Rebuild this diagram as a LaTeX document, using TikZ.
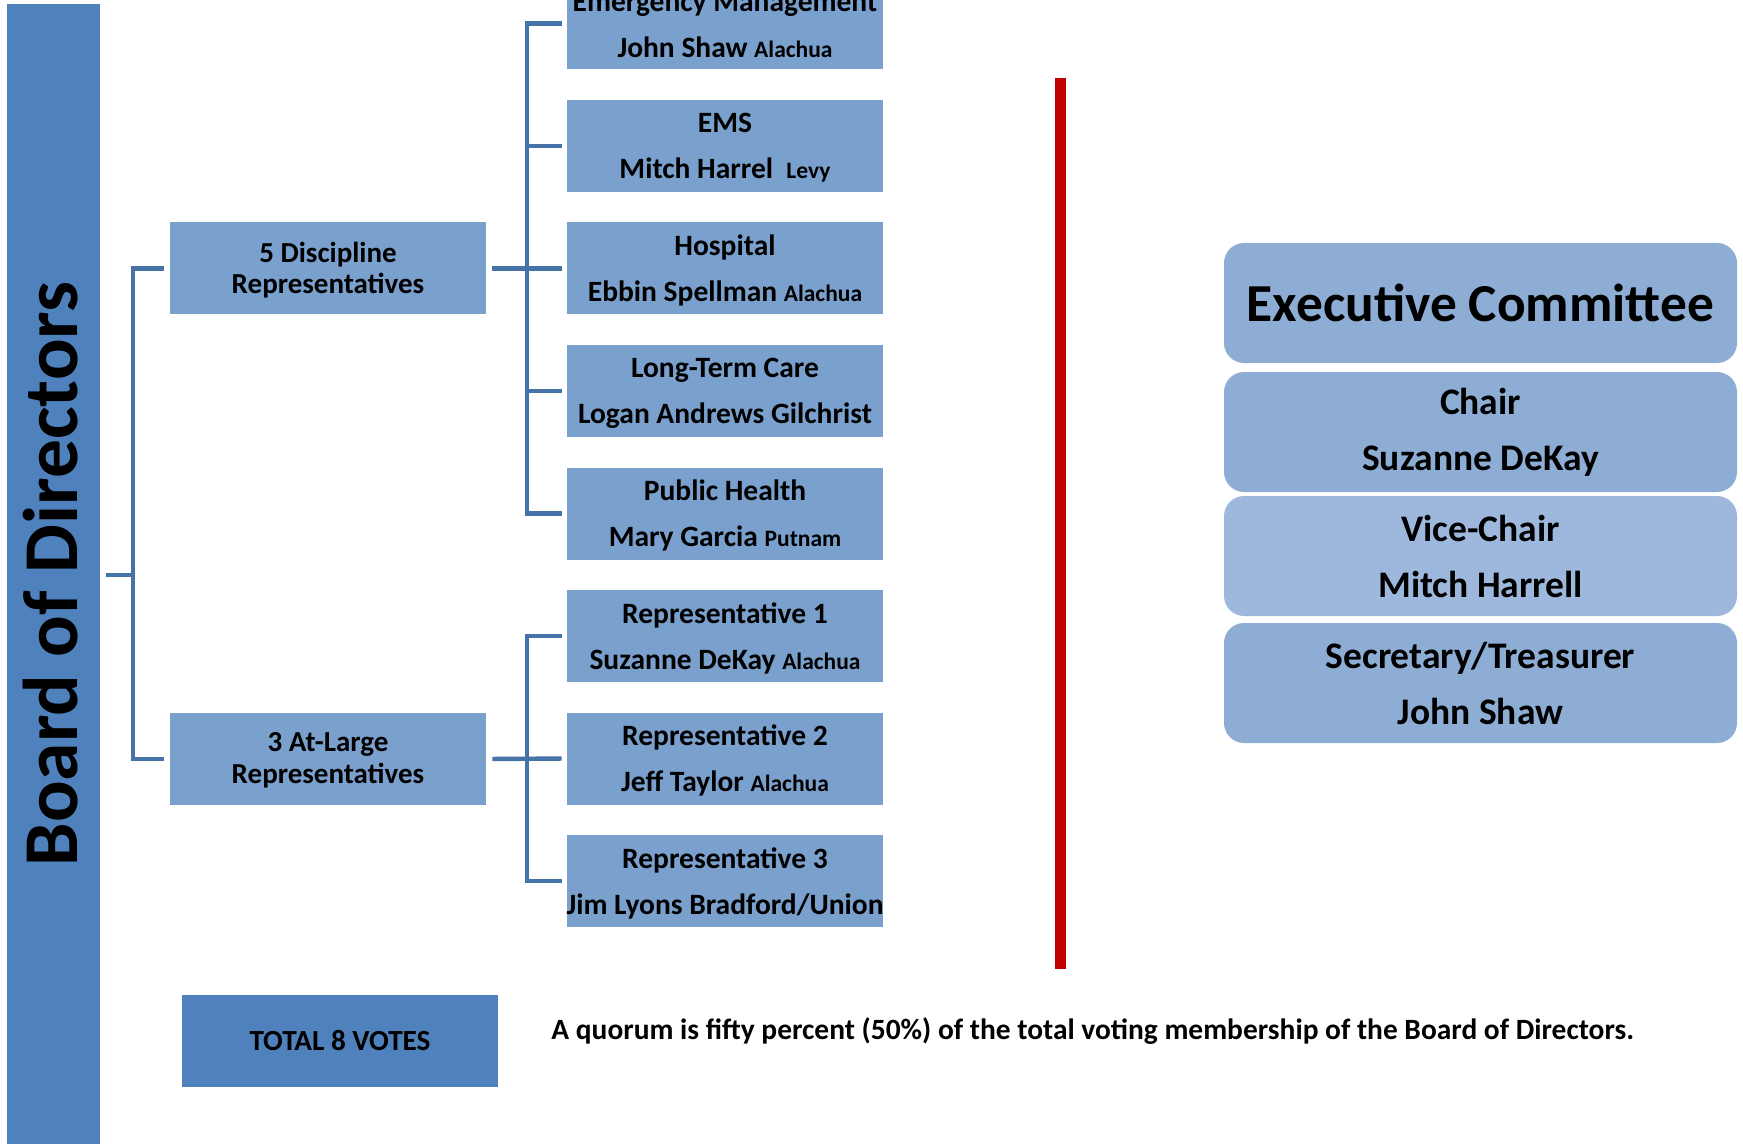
\documentclass[tikz,border=0pt]{standalone}
\usepackage{fontspec}
\setmainfont{Carlito}
\definecolor{boardblue}{RGB}{79,129,189}
\definecolor{boxblue}{RGB}{122,160,205}
\definecolor{execblue}{RGB}{141,173,212}
\definecolor{execlight}{RGB}{157,184,220}
\definecolor{connblue}{RGB}{69,114,167}
\definecolor{sepred}{RGB}{192,0,0}
\newcommand{\myfs}[2]{\fontsize{#1}{#2}\selectfont}
\newcommand{\cty}[1]{{\myfs{11.75}{23}#1}}
\begin{document}
\begin{tikzpicture}[x=0.5pt,y=-0.5pt,
  conn/.style={draw=connblue, line width=2.2pt},
  bluebox/.style={fill=boxblue, minimum width=158pt, minimum height=46pt, inner sep=0pt},
  dtext/.style={inner sep=0pt, align=center, font=\bfseries\myfs{14.75}{23}},
  mtext/.style={inner sep=0pt, align=center, font=\bfseries\myfs{14.5}{15.75}},
  ebox/.style={rounded corners=10pt, minimum width=256.5pt, minimum height=60pt, inner sep=0pt, align=center, font=\bfseries\myfs{18.75}{28}},
]
\useasboundingbox (0,0) rectangle (1743,1144);
\clip (0,0) rectangle (1743,1144);

% Board of Directors bar
\node[fill=boardblue, minimum width=46.5pt, minimum height=575pt, inner sep=0pt] (board) at (53.5,579) {};
\node[rotate=90, anchor=base, inner sep=0pt, font=\bfseries\myfs{38.8}{40}] (boardtxt) at (77,574) {Board of Directors};

% middle boxes
\node[bluebox] (disc) at (328,268.5) {};
\node[mtext] (disct) at ([yshift=-0.75pt]disc.center) {5 Discipline\\Representatives};
\node[bluebox] (atl) at (328,759) {};
\node[mtext] (atlt) at ([yshift=-0.75pt]atl.center) {3 At-Large\\Representatives};

% discipline / at-large boxes
\node[bluebox] (em)   at (725,23.5)  {};
\node[bluebox] (ems)  at (725,146)   {};
\node[bluebox] (hosp) at (725,268.5) {};
\node[bluebox] (ltc)  at (725,391)   {};
\node[bluebox] (ph)   at (725,513.5) {};
\node[bluebox] (r1)   at (725,636)   {};
\node[bluebox] (r2)   at (725,758.5) {};
\node[bluebox] (r3)   at (725,881)   {};
\node[dtext] (emt)   at ([yshift=-1pt]em.center)   {Emergency Management\\John Shaw \cty{Alachua}};
\node[dtext] (emst)  at ([yshift=-1pt]ems.center)  {EMS\\Mitch Harrel\ \ \cty{Levy}};
\node[dtext] (hospt) at ([yshift=-1pt]hosp.center) {Hospital\\Ebbin Spellman \cty{Alachua}};
\node[dtext] (ltct)  at ([yshift=-1pt]ltc.center)  {Long-Term Care\\Logan Andrews Gilchrist};
\node[dtext] (pht)   at ([yshift=-1pt]ph.center)   {Public Health\\Mary Garcia \cty{Putnam}};
\node[dtext] (r1t)   at ([yshift=-1pt]r1.center)   {Representative 1\\Suzanne DeKay \cty{Alachua}};
\node[dtext] (r2t)   at ([yshift=-1pt]r2.center)   {Representative 2\\Jeff Taylor \cty{Alachua}};
\node[dtext] (r3t)   at ([yshift=-1pt]r3.center)   {Representative 3\\Jim Lyons Bradford/Union};

% left bracket
\coordinate (bj) at (133,575);
\draw[conn, shorten <=3pt] (board.east |- bj) -- (bj);
\draw[conn, shorten >=3pt] (bj) |- (disc.west);
\draw[conn, shorten >=3pt] (bj) |- (atl.west);

% discipline bracket
\coordinate (dj) at (527,268.5);
\draw[conn, shorten <=3pt, shorten >=2.5pt] (disc.east) -- (hosp.west);
\draw[conn, shorten >=2.5pt] (dj) |- (em.west);
\draw[conn, shorten >=2.5pt] (dj) |- (ems.west);
\draw[conn, shorten >=2.5pt] (dj) |- (ltc.west);
\draw[conn, shorten >=2.5pt] (dj) |- (ph.west);

% at-large bracket
\coordinate (rj) at (527,759);
\draw[conn, shorten <=3pt, shorten >=2.5pt] (atl.east) -- (r2.west);
\draw[conn, shorten >=2.5pt] (rj) |- (r1.west);
\draw[conn, shorten >=2.5pt] (rj) |- (r3.west);

% red separator
\node[fill=sepred, minimum width=5.5pt, minimum height=445.5pt, inner sep=0pt] (sep) at (1060,523.5) {};

% executive committee
\node[ebox, fill=execblue, font=\bfseries\myfs{26.7}{30}] (ect) at (1480.5,303) {Executive Committee};
\node[ebox, fill=execblue] (chair) at (1480.5,432) {Chair\\Suzanne DeKay};
\node[ebox, fill=execlight] (vice) at (1480.5,556) {Vice-Chair\\Mitch Harrell};
\node[ebox, fill=execblue] (sec) at (1480.5,683) {Secretary/Treasurer\\John Shaw};

% total and quorum
\node[fill=boardblue, minimum width=158pt, minimum height=46pt, inner sep=0pt, font=\bfseries\myfs{14.6}{16}] (total) at (340,1041) {TOTAL 8 VOTES};
\node[anchor=west, inner sep=0pt, font=\bfseries\myfs{14.72}{16}] (quorum) at (551,1031) {A quorum is fifty percent (50\%) of the total voting membership of the Board of Directors.};
\end{tikzpicture}
\end{document}
